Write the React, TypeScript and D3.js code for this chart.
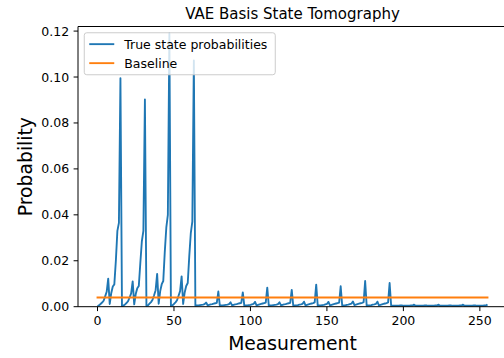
import React from "react";
import * as d3 from "d3";

// ---- data ----
const measurementCount = 256;
const xTickValues = [0, 50, 100, 150, 200, 250];
const yTickValues = [0, 0.02, 0.04, 0.06, 0.08, 0.1, 0.12];
const yTickLabels = ["0.00", "0.02", "0.04", "0.06", "0.08", "0.10", "0.12"];
const seriesNames = ["True state probabilities", "Baseline"];
const baselineX = [0, 255];
const baselineY = [0.004, 0.004];

const trueProbabilities = [
  // 0-15
  0.0003, 0.0006, 0.0012, 0.0018, 0.0026, 0.0045, 0.0065, 0.0122, 0.0012, 0.0060, 0.0088, 0.0097, 0.0200, 0.0330, 0.0365, 0.0995,
  // 16-31
  0.0002, 0.0005, 0.0010, 0.0016, 0.0024, 0.0040, 0.0058, 0.0110, 0.0010, 0.0055, 0.0080, 0.0090, 0.0190, 0.0285, 0.0330, 0.0902,
  // 32-47
  0.0003, 0.0006, 0.0013, 0.0020, 0.0030, 0.0050, 0.0072, 0.0143, 0.0013, 0.0068, 0.0098, 0.0112, 0.0240, 0.0345, 0.0400, 0.1190,
  // 48-63
  0.0003, 0.0006, 0.0012, 0.0019, 0.0028, 0.0048, 0.0068, 0.0132, 0.0012, 0.0062, 0.0090, 0.0103, 0.0220, 0.0320, 0.0370, 0.1072,
  // 64-79
  0.0004, 0.0005, 0.0006, 0.0007, 0.0008, 0.0009, 0.0011, 0.0018, 0.0006, 0.0008, 0.0010, 0.0011, 0.0013, 0.0015, 0.0017, 0.0066,
  // 80-95
  0.0004, 0.0005, 0.0006, 0.0007, 0.0008, 0.0009, 0.0011, 0.0019, 0.0006, 0.0008, 0.0010, 0.0011, 0.0013, 0.0015, 0.0017, 0.0062,
  // 96-111
  0.0004, 0.0005, 0.0006, 0.0007, 0.0008, 0.0010, 0.0012, 0.0021, 0.0006, 0.0008, 0.0010, 0.0012, 0.0014, 0.0016, 0.0018, 0.0083,
  // 112-127
  0.0004, 0.0005, 0.0006, 0.0007, 0.0008, 0.0009, 0.0011, 0.0019, 0.0006, 0.0008, 0.0010, 0.0011, 0.0013, 0.0015, 0.0017, 0.0073,
  // 128-143
  0.0004, 0.0005, 0.0006, 0.0007, 0.0009, 0.0010, 0.0012, 0.0022, 0.0006, 0.0008, 0.0010, 0.0012, 0.0014, 0.0016, 0.0019, 0.0096,
  // 144-159
  0.0004, 0.0005, 0.0006, 0.0007, 0.0008, 0.0010, 0.0012, 0.0021, 0.0006, 0.0008, 0.0010, 0.0012, 0.0014, 0.0016, 0.0018, 0.0089,
  // 160-175
  0.0004, 0.0005, 0.0006, 0.0008, 0.0009, 0.0011, 0.0013, 0.0023, 0.0007, 0.0009, 0.0011, 0.0013, 0.0015, 0.0017, 0.0020, 0.0112,
  // 176-191
  0.0004, 0.0005, 0.0006, 0.0007, 0.0009, 0.0010, 0.0012, 0.0022, 0.0006, 0.0008, 0.0010, 0.0012, 0.0014, 0.0016, 0.0019, 0.0103,
  // 192-207
  0.0004, 0.0004, 0.0004, 0.0004, 0.0004, 0.0004, 0.0005, 0.0006, 0.0004, 0.0004, 0.0004, 0.0004, 0.0004, 0.0005, 0.0005, 0.0009,
  // 208-223
  0.0004, 0.0004, 0.0004, 0.0004, 0.0004, 0.0004, 0.0005, 0.0006, 0.0004, 0.0004, 0.0004, 0.0004, 0.0004, 0.0005, 0.0005, 0.0009,
  // 224-239
  0.0004, 0.0004, 0.0004, 0.0004, 0.0004, 0.0004, 0.0005, 0.0006, 0.0004, 0.0004, 0.0004, 0.0004, 0.0004, 0.0005, 0.0005, 0.0009,
  // 240-255
  0.0004, 0.0004, 0.0004, 0.0004, 0.0004, 0.0004, 0.0005, 0.0006, 0.0004, 0.0004, 0.0004, 0.0004, 0.0004, 0.0005, 0.0005, 0.0010,
];

const BLUE = "#1f77b4";
const ORANGE = "#ff7f0e";
const FONT = "DejaVu Sans, Verdana, sans-serif";

export default function App() {
  const W = 504;
  const H = 358;
  const left = 78;
  const right = 507;
  const top = 26.5;
  const bottom = 306.7;

  const x = d3.scaleLinear().domain([-12.75, 267.75]).range([left, right]);
  const y = d3.scaleLinear().domain([0, 0.122]).range([bottom, top]);

  const indices = d3.range(measurementCount);
  const line = d3
    .line<number>()
    .x((i) => x(i))
    .y((i) => y(trueProbabilities[i]));
  const baseLine = d3
    .line<number>()
    .x((i) => x(baselineX[i]))
    .y((i) => y(baselineY[i]));

  const tickLen = 4.4;
  const legX = left + 6.25;
  const legY = top + 6.25;
  const legW = 191;
  const legH = 42;
  const row1 = legY + 11.4;
  const row2 = legY + 30.4;

  return (
    <svg
      width={W}
      height={H}
      style={{ position: "absolute", left: 0, top: 0, background: "#fff" }}
      fontFamily={FONT}
    >
      <rect x={0} y={0} width={W} height={H} fill="#fff" />
      <defs>
        <clipPath id="plotclip">
          <rect x={left} y={top} width={right - left} height={bottom - top} />
        </clipPath>
      </defs>
      <g clipPath="url(#plotclip)">
        <path
          d={line(indices) || ""}
          fill="none"
          stroke={BLUE}
          strokeWidth={1.875}
          strokeLinejoin="round"
        />
        <path
          d={baseLine([0, 1]) || ""}
          fill="none"
          stroke={ORANGE}
          strokeWidth={1.875}
          strokeLinecap="square"
        />
      </g>

      {/* spines */}
      <line x1={left} x2={left} y1={top} y2={bottom} stroke="#000" strokeWidth={1} />
      <line x1={left} x2={right} y1={bottom} y2={bottom} stroke="#000" strokeWidth={1} />
      <line x1={left} x2={right} y1={top} y2={top} stroke="#000" strokeWidth={1} />
      <line x1={right} x2={right} y1={top} y2={bottom} stroke="#000" strokeWidth={1} />

      {/* x ticks */}
      {xTickValues.map((v) => (
        <g key={"x" + v}>
          <line x1={x(v)} x2={x(v)} y1={bottom} y2={bottom + tickLen} stroke="#000" strokeWidth={1} />
          <text x={x(v)} y={bottom + 18.3} textAnchor="middle" fontSize={12.5} fill="#000">
            {v}
          </text>
        </g>
      ))}

      {/* y ticks */}
      {yTickValues.map((v, i) => (
        <g key={"y" + v}>
          <line x1={left - tickLen} x2={left} y1={y(v)} y2={y(v)} stroke="#000" strokeWidth={1} />
          <text x={left - 8.8} y={y(v) + 4.5} textAnchor="end" fontSize={12.5} fill="#000">
            {yTickLabels[i]}
          </text>
        </g>
      ))}

      {/* title and labels */}
      <text x={(left + right) / 2} y={19} textAnchor="middle" fontSize={15} fill="#000">
        VAE Basis State Tomography
      </text>
      <text x={(left + right) / 2} y={350} textAnchor="middle" fontSize={18.75} fill="#000">
        Measurement
      </text>
      <text
        transform={`translate(${31.5},${(top + bottom) / 2}) rotate(-90)`}
        textAnchor="middle"
        fontSize={18.75}
        fill="#000"
      >
        Probability
      </text>

      {/* legend */}
      <rect
        x={legX}
        y={legY}
        width={legW}
        height={legH}
        rx={2.5}
        fill="#fff"
        fillOpacity={0.8}
        stroke="#cccccc"
        strokeWidth={1}
      />
      <line x1={legX + 5} x2={legX + 30} y1={row1} y2={row1} stroke={BLUE} strokeWidth={1.875} />
      <text x={legX + 40} y={row1 + 4.5} fontSize={12.5} fill="#000">
        {seriesNames[0]}
      </text>
      <line x1={legX + 5} x2={legX + 30} y1={row2} y2={row2} stroke={ORANGE} strokeWidth={1.875} />
      <text x={legX + 40} y={row2 + 4.5} fontSize={12.5} fill="#000">
        {seriesNames[1]}
      </text>
    </svg>
  );
}
